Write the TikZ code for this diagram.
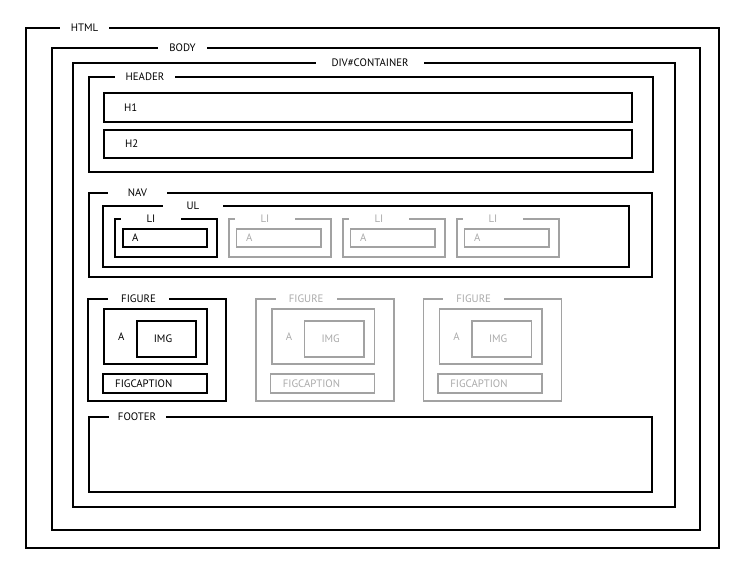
\documentclass[tikz,border=0pt]{standalone}
\usepackage{fontspec}
\setmainfont{PT Sans}
\definecolor{faintline}{RGB}{162,162,162}
\definecolor{fainttext}{RGB}{170,170,170}
\begin{document}
\begin{tikzpicture}[x=1pt, y=-1pt,
  blk/.style={draw=black, line width=2pt},
  gry/.style={draw=faintline, line width=1.8pt},
  tag/.style={fill=white, inner sep=1pt, minimum width=60pt, font=\fontsize{10.8}{12}\selectfont},
  word/.style={anchor=west, inner sep=0pt, font=\fontsize{10.8}{12}\selectfont}]
  \useasboundingbox (0,0) rectangle (746,566);

  % outer boxes
  \draw[blk] (26,28) rectangle (719,548);
  \node[tag, minimum width=49pt] (html) at (84.5,28) {HTML};
  \draw[blk] (51.5,48) rectangle (700,530);
  \node[tag, minimum width=49pt] (body) at (182.5,48) {BODY};
  \draw[blk] (72.7,63) rectangle (674.7,507);
  \node[tag, minimum width=108pt] (container) at (370,63) {DIV\#CONTAINER};

  % header
  \draw[blk] (89.3,77) rectangle (653,172.3);
  \node[tag] (header) at (145,77) {HEADER};
  \draw[blk] (104.3,92.7) rectangle (631.7,122);
  \node[word] (h1) at (124,107.3) {H1};
  \draw[blk] (104.3,130) rectangle (631.7,157.7);
  \node[word] (h2) at (125,144) {H2};

  % nav
  \draw[blk] (89,193) rectangle (651.7,277);
  \node[tag, minimum width=59pt] (nav) at (137.5,193) {NAV};
  \draw[blk] (102.7,206) rectangle (629,267);
  \node[tag] (ul) at (193,206) {UL};

  \draw[blk] (115,219) rectangle (217,257);
  \node[tag] (li1) at (151,219) {LI};
  \draw[blk] (122.5,229) rectangle (207,247);
  \node[word] (a1) at (132,238) {A};

  \draw[gry] (229,219) rectangle (331,257);
  \node[tag, text=fainttext] (li2) at (265,219) {LI};
  \draw[gry] (236.5,229) rectangle (321,247);
  \node[word, text=fainttext] (a2) at (246,238) {A};

  \draw[gry] (343,219) rectangle (445,257);
  \node[tag, text=fainttext] (li3) at (379,219) {LI};
  \draw[gry] (350.5,229) rectangle (435,247);
  \node[word, text=fainttext] (a3) at (360,238) {A};

  \draw[gry] (457,219) rectangle (559,257);
  \node[tag, text=fainttext] (li4) at (493,219) {LI};
  \draw[gry] (464.5,229) rectangle (549,247);
  \node[word, text=fainttext] (a4) at (474,238) {A};

  % figures
  \draw[blk] (88.3,299) rectangle (226.3,401);
  \node[tag, minimum width=61pt] (fig1) at (138.5,299) {FIGURE};
  \draw[blk] (104.3,309) rectangle (206.8,364);
  \node[word] (fa1) at (118,337) {A};
  \draw[blk] (136.8,320.7) rectangle (196.3,356.7);
  \node[inner sep=0pt, font=\fontsize{10.8}{12}\selectfont] (img1) at (163,338.7) {IMG};
  \draw[blk] (102.8,374) rectangle (206.8,392.7);
  \node[word] (cap1) at (115,383.3) {FIGCAPTION};

  \draw[gry] (256,299) rectangle (394,401);
  \node[tag, minimum width=61pt, text=fainttext] (fig2) at (306.2,299) {FIGURE};
  \draw[gry] (272,309) rectangle (374.5,364);
  \node[word, text=fainttext] (fa2) at (285.7,337) {A};
  \draw[gry] (304.5,320.7) rectangle (364,356.7);
  \node[inner sep=0pt, text=fainttext, font=\fontsize{10.8}{12}\selectfont] (img2) at (330.7,338.7) {IMG};
  \draw[gry] (270.5,374) rectangle (374.5,392.7);
  \node[word, text=fainttext] (cap2) at (282.7,383.3) {FIGCAPTION};

  \draw[gry] (423.5,299) rectangle (561.5,401);
  \node[tag, minimum width=61pt, text=fainttext] (fig3) at (473.7,299) {FIGURE};
  \draw[gry] (439.5,309) rectangle (542,364);
  \node[word, text=fainttext] (fa3) at (453.2,337) {A};
  \draw[gry] (472,320.7) rectangle (531.5,356.7);
  \node[inner sep=0pt, text=fainttext, font=\fontsize{10.8}{12}\selectfont] (img3) at (498.2,338.7) {IMG};
  \draw[gry] (438,374) rectangle (542,392.7);
  \node[word, text=fainttext] (cap3) at (450.2,383.3) {FIGCAPTION};

  % footer
  \draw[blk] (89,417) rectangle (652,492);
  \node[tag, minimum width=57pt] (footer) at (137,417) {FOOTER};

\end{tikzpicture}
\end{document}
